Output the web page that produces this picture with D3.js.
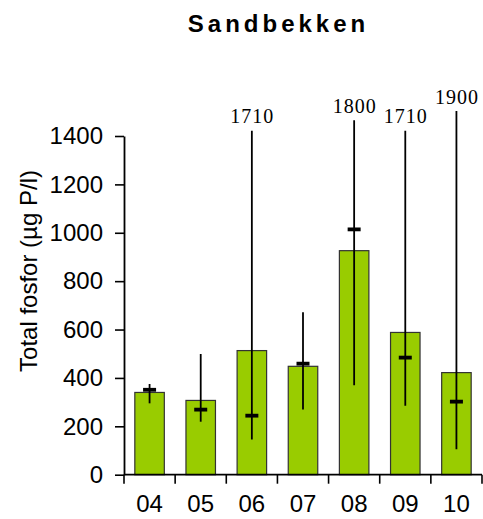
<!DOCTYPE html>
<html>
<head>
<meta charset="utf-8">
<script src="https://cdn.jsdelivr.net/npm/d3@7"></script>
<style>
  html, body { margin: 0; padding: 0; background: #fff; }
  svg { display: block; }
</style>
</head>
<body>
<svg id="chart" width="483" height="519"></svg>
<script>
const title = "Sandbekken";
const yTitle = "Total fosfor (µg P/l)";
const categories = ["04", "05", "06", "07", "08", "09", "10"];
const meanValues = [340, 307, 513, 448, 926, 588, 422];
const medianValues = [351, 269, 244, 459, 1014, 484, 302];
const minValues = [295, 219, 146, 270, 370, 285, 105];
const maxValues = [375, 499, 1710, 671, 1800, 1710, 1900];
const yTicks = [0, 200, 400, 600, 800, 1000, 1200, 1400];

const svg = d3.select("#chart");

const xBand = d3.scaleBand().domain(categories).range([124, 482]);
const y = d3.scaleLinear().domain([0, 1400]).range([474.7, 136]);
// compressed scale for whiskers that extend beyond the axis
const yOver = d3.scaleLinear().domain([0, 1400, 1710, 1800, 1900]).range([474.7, 136, 130.8, 120.3, 111]);

const data = categories.map((c, i) => ({
  c, mean: meanValues[i], median: medianValues[i], min: minValues[i], max: maxValues[i]
}));

// title
svg.append("text")
  .attr("x", 278.5).attr("y", 31.5)
  .attr("text-anchor", "middle")
  .style("font-family", "Arial, 'Liberation Sans', sans-serif")
  .style("font-weight", "bold")
  .style("font-size", "24px")
  .style("letter-spacing", "4px")
  .text(title);

// y axis title
svg.append("text")
  .attr("transform", "translate(36.5,271) rotate(-90)")
  .attr("text-anchor", "middle")
  .style("font-family", "Arial, 'Liberation Sans', sans-serif")
  .style("font-size", "24px")
  .text(yTitle);

// bars
svg.append("g").selectAll("rect").data(data).enter().append("rect")
  .attr("x", d => xBand(d.c) + xBand.bandwidth() / 2 - 14.75)
  .attr("width", 29.5)
  .attr("y", d => y(d.mean))
  .attr("height", d => y(0) - y(d.mean))
  .attr("fill", "#99cc00")
  .attr("stroke", "#333333")
  .attr("stroke-width", 1.2);

// whiskers
const cx = d => xBand(d.c) + xBand.bandwidth() / 2;
svg.append("g").selectAll("line").data(data).enter().append("line")
  .attr("x1", cx).attr("x2", cx)
  .attr("y1", d => y(d.min))
  .attr("y2", d => d.max > 1400 ? yOver(d.max) : y(d.max))
  .attr("stroke", "#000").attr("stroke-width", 1.8);

// medians
svg.append("g").selectAll("line").data(data).enter().append("line")
  .attr("x1", d => cx(d) - 6.5).attr("x2", d => cx(d) + 6.5)
  .attr("y1", d => y(d.median)).attr("y2", d => y(d.median))
  .attr("stroke", "#000").attr("stroke-width", 3.8);

// labels for off-scale maxima
svg.append("g").selectAll("text").data(data.filter(d => d.max > 1400)).enter().append("text")
  .attr("x", d => cx(d) + 0.5)
  .attr("y", d => yOver(d.max) - 7.5)
  .attr("text-anchor", "middle")
  .style("font-family", "'Liberation Serif', 'Times New Roman', serif")
  .style("font-size", "20px")
  .style("letter-spacing", "1px")
  .text(d => d.max);

// y axis
const yAxis = d3.axisLeft(y).tickValues(yTicks).tickFormat(d3.format("d"))
  .tickSize(9).tickSizeOuter(0).tickPadding(12);
const gy = svg.append("g").attr("transform", "translate(124,0)").call(yAxis);
gy.select(".domain").attr("stroke", "#000").attr("stroke-width", 1.8);
gy.selectAll(".tick line").attr("stroke", "#000").attr("stroke-width", 1.6);
gy.selectAll(".tick text")
  .style("font-family", "Arial, 'Liberation Sans', sans-serif")
  .style("font-size", "24px")
  .attr("fill", "#000");

// x axis
const gx = svg.append("g");
gx.append("line")
  .attr("x1", xBand.range()[0]).attr("x2", xBand.range()[1])
  .attr("y1", y(0)).attr("y2", y(0))
  .attr("stroke", "#000").attr("stroke-width", 1.8);
const bounds = categories.map(c => xBand(c)).concat([xBand.range()[1]]);
gx.selectAll("line.t").data(bounds).enter().append("line")
  .attr("class", "t")
  .attr("x1", d => d).attr("x2", d => d)
  .attr("y1", y(0)).attr("y2", y(0) + 9)
  .attr("stroke", "#000").attr("stroke-width", 1.6);
gx.selectAll("text.xl").data(categories).enter().append("text")
  .attr("class", "xl")
  .attr("x", c => xBand(c) + xBand.bandwidth() / 2)
  .attr("y", 511.5)
  .attr("text-anchor", "middle")
  .style("font-family", "Arial, 'Liberation Sans', sans-serif")
  .style("font-size", "24px")
  .text(c => c);
</script>
</body>
</html>
